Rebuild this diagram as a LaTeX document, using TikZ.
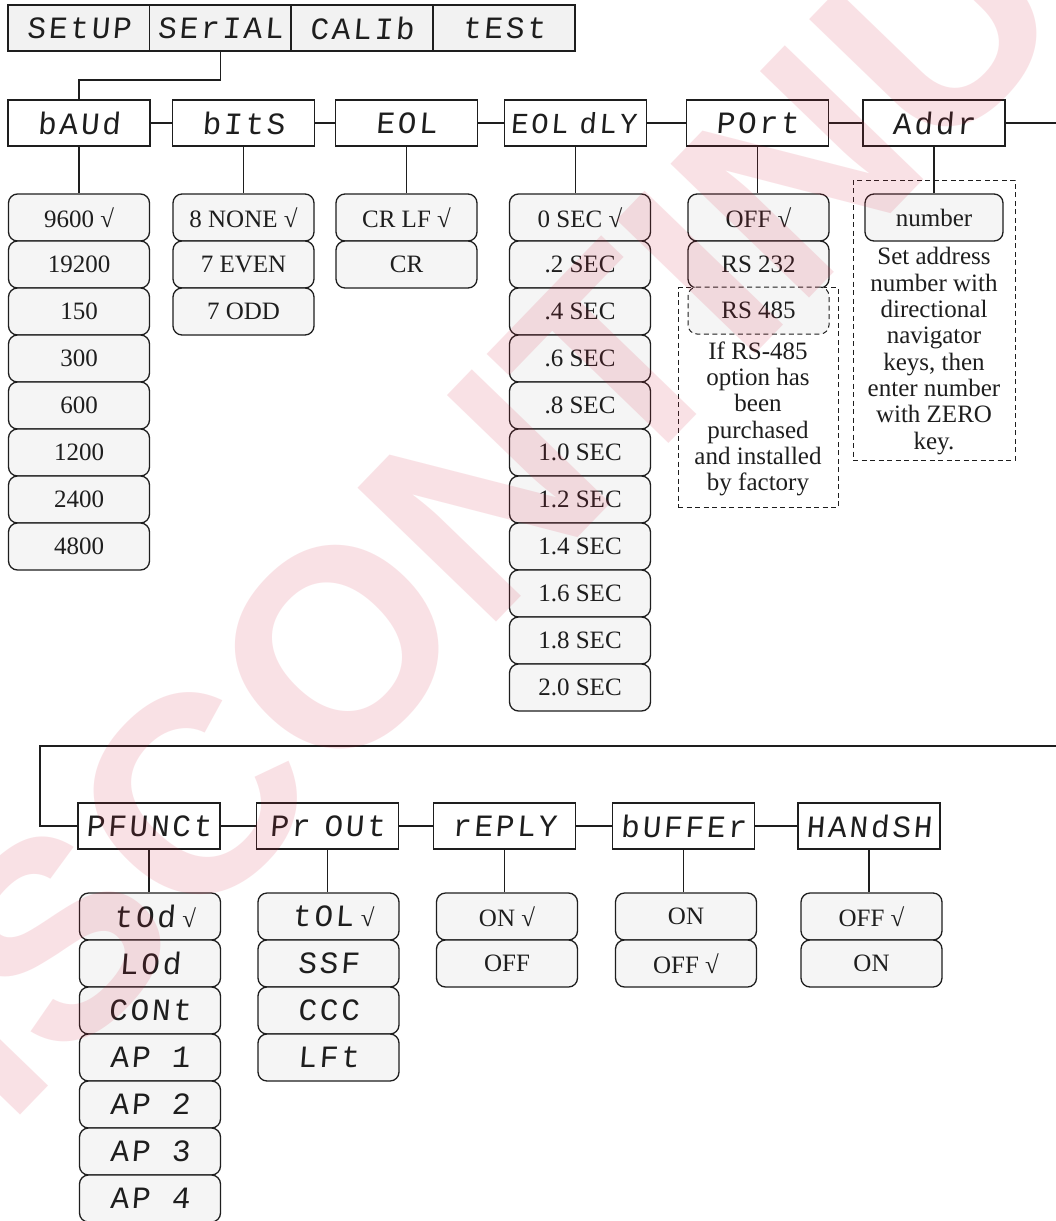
\documentclass[tikz,border=0pt]{standalone}
\usepackage{fontspec}
\setmainfont{Liberation Serif}
\newfontfamily\segfont[FakeSlant=0.08,LetterSpace=9]{Liberation Mono}
\newfontfamily\wmfont{Liberation Sans}
\newcommand\sg[1]{{\segfont\fontsize{31}{31}\selectfont #1}}
\newcommand\sgn[1]{{\segfont\fontsize{29}{29}\selectfont #1}}
\definecolor{wm}{RGB}{215,30,60}
\definecolor{ink}{RGB}{30,30,30}
\begin{document}
\begin{tikzpicture}[x=1pt,y=-1pt,
 ln/.style={draw=ink,line width=1.3pt},
 tab/.style={draw=ink,line width=1.3pt,fill=black!5,minimum width=142pt,minimum height=46pt,inner sep=0pt,text=ink},
 hdr/.style={tab,fill=white},
 opt/.style={draw=ink,line width=1.3pt,rounded corners=9pt,fill=black!4,minimum width=141pt,minimum height=47pt,inner sep=0pt,text=ink,font=\fontsize{25}{25}\selectfont},
 note/.style={align=center,inner sep=0pt,text=ink,font=\fontsize{25}{26.3}\selectfont},
 dbox/.style={draw=ink,line width=1pt,dash pattern=on 5pt off 3.5pt},
 wmark/.style={text=wm,opacity=0.13,rotate=46,inner sep=0pt,font=\wmfont\bfseries\fontsize{280}{280}\selectfont}]
\useasboundingbox[fill=white] (0,0) rectangle (1056,1221);

% top tabs
\node[tab] (t1) at (79,28) {\sg{SEtUP}};
\node[tab] (t2) at (220.5,28) {\sg{SErIAL}};
\node[tab] (t3) at (362,28) {\sg{CALIb}};
\node[tab] (t4) at (504,28) {\sg{tESt}};

% serial submenus
\node[hdr] (baud) at (79,123) {\sg{bAUd}};
\node[hdr] (bits) at (243.5,123) {\sg{bItS}};
\node[hdr] (eol) at (406.5,123) {\sg{EOL}};
\node[hdr] (eold) at (575.5,123) {\hspace*{-4pt}\sgn{EOL}\kern11pt\sgn{dLY}};
\node[hdr] (port) at (757.5,123) {\sg{POrt}};
\node[hdr] (addr) at (934,123) {\sg{Addr}};

\coordinate (jy) at (0,80);
\draw[ln] (t2.south) -- (t2.south |- jy) -- (baud.north |- jy) -- (baud.north);
\coordinate (redge) at (1056,123);
\draw[ln] (baud.east) -- (bits.west);
\draw[ln] (bits.east) -- (eol.west);
\draw[ln] (eol.east) -- (eold.west);
\draw[ln] (eold.east) -- (port.west);
\draw[ln] (port.east) -- (addr.west);
\draw[ln] (addr.east) -- (redge);

% option columns
\foreach \t [count=\i] in {9600 √,19200,150,300,600,1200,2400,4800}
  \node[opt] (ba\i) at (79,{217.5+47*(\i-1)}) {\t};
\foreach \t [count=\i] in {8 NONE √,7 EVEN,7 ODD}
  \node[opt] (bi\i) at (243.5,{217.5+47*(\i-1)}) {\t};
\foreach \t [count=\i] in {CR LF √,CR}
  \node[opt] (eo\i) at (406.5,{217.5+47*(\i-1)}) {\t};
\foreach \t [count=\i] in {0 SEC √,.2 SEC,.4 SEC,.6 SEC,.8 SEC,1.0 SEC,1.2 SEC,1.4 SEC,1.6 SEC,1.8 SEC,2.0 SEC}
  \node[opt] (ed\i) at (580,{217.5+47*(\i-1)}) {\t};
\node[opt] (po1) at (758.5,217.5) {OFF √};
\node[opt] (po2) at (758.5,264.5) {RS 232};
\node[dbox] (pnote) at (758,397.5) [minimum width=160pt,minimum height=220pt] {};
\node[opt,dash pattern=on 5pt off 3.5pt,line width=1pt] (po3) at (758.5,310.5) {RS 485};
\node[note] (pnotetext) at (758,419) {If RS-485\\option has\\been\\purchased\\and installed\\by factory};

\node[dbox] (anote) at (934,320) [minimum width=162pt,minimum height=280pt] {};
\node[opt,minimum width=138pt] (num) at (934,217.5) {number};
\node[note] (anotetext) at (934,351) {Set address\\number with\\directional\\navigator\\keys, then\\enter number\\with ZERO\\key.};

\draw[ln] (baud.south) -- (ba1.north);
\draw[ln] (bits.south) -- (bi1.north);
\draw[ln] (eol.south) -- (eo1.north);
\draw[ln] (eold.south) -- (eold.south |- ed1.north);
\draw[ln] (port.south) -- (port.south |- po1.north);
\draw[ln] (addr.south) -- (num.north);

% printer submenus
\node[hdr] (pf) at (149,826) {\sg{PFUNCt}};
\node[hdr] (pr) at (327.5,826) {\sg{Pr}\kern14pt\sg{OUt}};
\node[hdr] (re) at (504.5,826) {\sg{rEPLY}};
\node[hdr] (bu) at (683.5,826) {\sg{bUFFEr}};
\node[hdr] (hs) at (869,826) {\sg{HANdSH}};

\coordinate (l1) at (1056,746);
\coordinate (l2) at (40,746);
\draw[ln] (l1) -- (l2) |- (pf.west);
\draw[ln] (pf.east) -- (pr.west);
\draw[ln] (pr.east) -- (re.west);
\draw[ln] (re.east) -- (bu.west);
\draw[ln] (bu.east) -- (hs.west);

\foreach \t [count=\i] in {\hspace*{10pt}\sg{tOd}\kern7pt√,\sg{LOd},\sg{CONt},\sg{AP 1},\sg{AP 2},\sg{AP 3},\sg{AP 4}}
  \node[opt] (pf\i) at (150,{916.5+47*(\i-1)}) {\t};
\foreach \t [count=\i] in {\hspace*{10pt}\sg{tOL}\kern7pt√,\sg{SSF},\sg{CCC},\sg{LFt}}
  \node[opt] (pr\i) at (328.5,{916.5+47*(\i-1)}) {\t};
\foreach \t [count=\i] in {ON √,OFF}
  \node[opt] (re\i) at (507,{916.5+47*(\i-1)}) {\t};
\foreach \t [count=\i] in {ON,OFF √}
  \node[opt] (bu\i) at (686,{916.5+47*(\i-1)}) {\t};
\foreach \t [count=\i] in {OFF √,ON}
  \node[opt] (hs\i) at (871.5,{916.5+47*(\i-1)}) {\t};

\draw[ln] (pf.south) -- (pf.south |- pf1.north);
\draw[ln] (pr.south) -- (pr.south |- pr1.north);
\draw[ln] (re.south) -- (re.south |- re1.north);
\draw[ln] (bu.south) -- (bu.south |- bu1.north);
\draw[ln] (hs.south) -- (hs.south |- hs1.north);

% watermark
\node[wmark] (wmk) at (538,440) {DISCONTINUED};
\end{tikzpicture}
\end{document}
